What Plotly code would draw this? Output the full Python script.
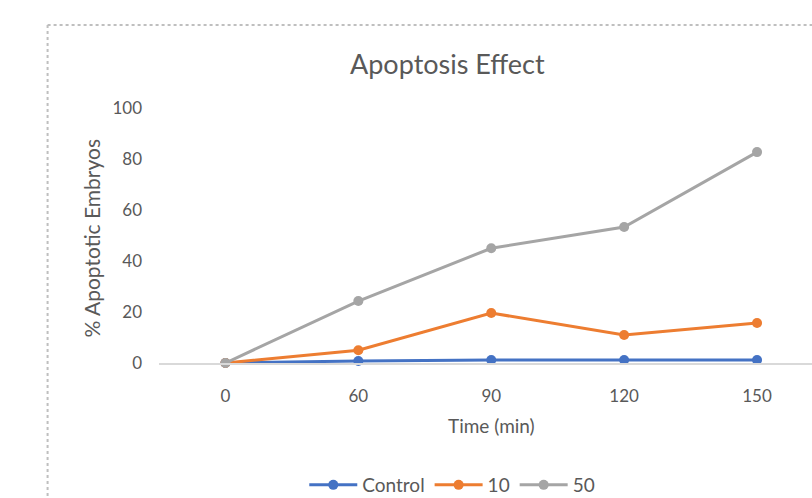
import plotly.graph_objects as go

time_labels = ["0", "60", "90", "120", "150"]
control = [0, 0.8, 1.2, 1.2, 1.2]
dose10 = [0, 5, 19.6, 11, 15.7]
dose50 = [0, 24.3, 45, 53.3, 82.7]

W, H = 812, 498
L, R, T, B = 158.5, 0, 108, 135
pw = W - L - R
ph = H - T - B

def px_x(x):
    return (x - L) / pw

def px_y(y):
    return (H - B - y) / ph

FONT = "Lato"
TXT = "#595959"

fig = go.Figure()
for name, vals, col in [("Control", control, "#4472C4"),
                        ("10", dose10, "#ED7D31"),
                        ("50", dose50, "#A5A5A5")]:
    fig.add_trace(go.Scatter(
        x=list(range(len(time_labels))), y=vals, name=name,
        mode="lines+markers",
        line=dict(color=col, width=3),
        marker=dict(color=col, size=10),
        cliponaxis=False,
    ))

fig.update_layout(
    width=W, height=H,
    margin=dict(l=L, r=R, t=T, b=B, pad=0, autoexpand=False),
    paper_bgcolor="white", plot_bgcolor="white",
    font=dict(family=FONT, color=TXT, size=17),
    showlegend=True,
    legend=dict(orientation="h", x=px_x(452), y=px_y(485), xanchor="center",
                yanchor="middle", font=dict(size=19, color=TXT),
                itemwidth=48, tracegroupgap=0),
    xaxis=dict(range=[-0.5, (W - L) / 133.0 - 0.5], tickmode="array",
               tickvals=list(range(len(time_labels))), ticktext=time_labels,
               showgrid=False, zeroline=False, showline=True,
               linecolor="#D9D9D9", linewidth=1.5, ticks="", automargin=False,
               ticklabelstandoff=17, tickfont=dict(size=17, color=TXT)),
    yaxis=dict(range=[0, 100], tickvals=[0, 20, 40, 60, 80, 100],
               showgrid=False, zeroline=False, showline=False, ticks="",
               automargin=False,
               ticklabelstandoff=16, tickfont=dict(size=17, color=TXT)),
    annotations=[
        dict(text="Apoptosis Effect", x=px_x(447), y=px_y(64), xref="paper",
             yref="paper", showarrow=False, font=dict(size=27, color=TXT),
             xanchor="center", yanchor="middle"),
        dict(text="Time (min)", x=px_x(491), y=px_y(425), xref="paper",
             yref="paper", showarrow=False, font=dict(size=19, color=TXT),
             xanchor="center", yanchor="middle"),
        dict(text="% Apoptotic Embryos", x=px_x(90), y=px_y(238), xref="paper",
             yref="paper", showarrow=False, textangle=-90,
             font=dict(size=21, color=TXT), xanchor="center", yanchor="middle"),
    ],
    shapes=[
        dict(type="line", xref="paper", yref="paper", x0=px_x(47), x1=px_x(812),
             y0=px_y(25), y1=px_y(25), line=dict(color="#BFBFBF", width=2, dash="dot")),
        dict(type="line", xref="paper", yref="paper", x0=px_x(47), x1=px_x(47),
             y0=px_y(25), y1=px_y(498), line=dict(color="#BFBFBF", width=2, dash="dot")),
    ],
)

fig.write_html("out.html")
